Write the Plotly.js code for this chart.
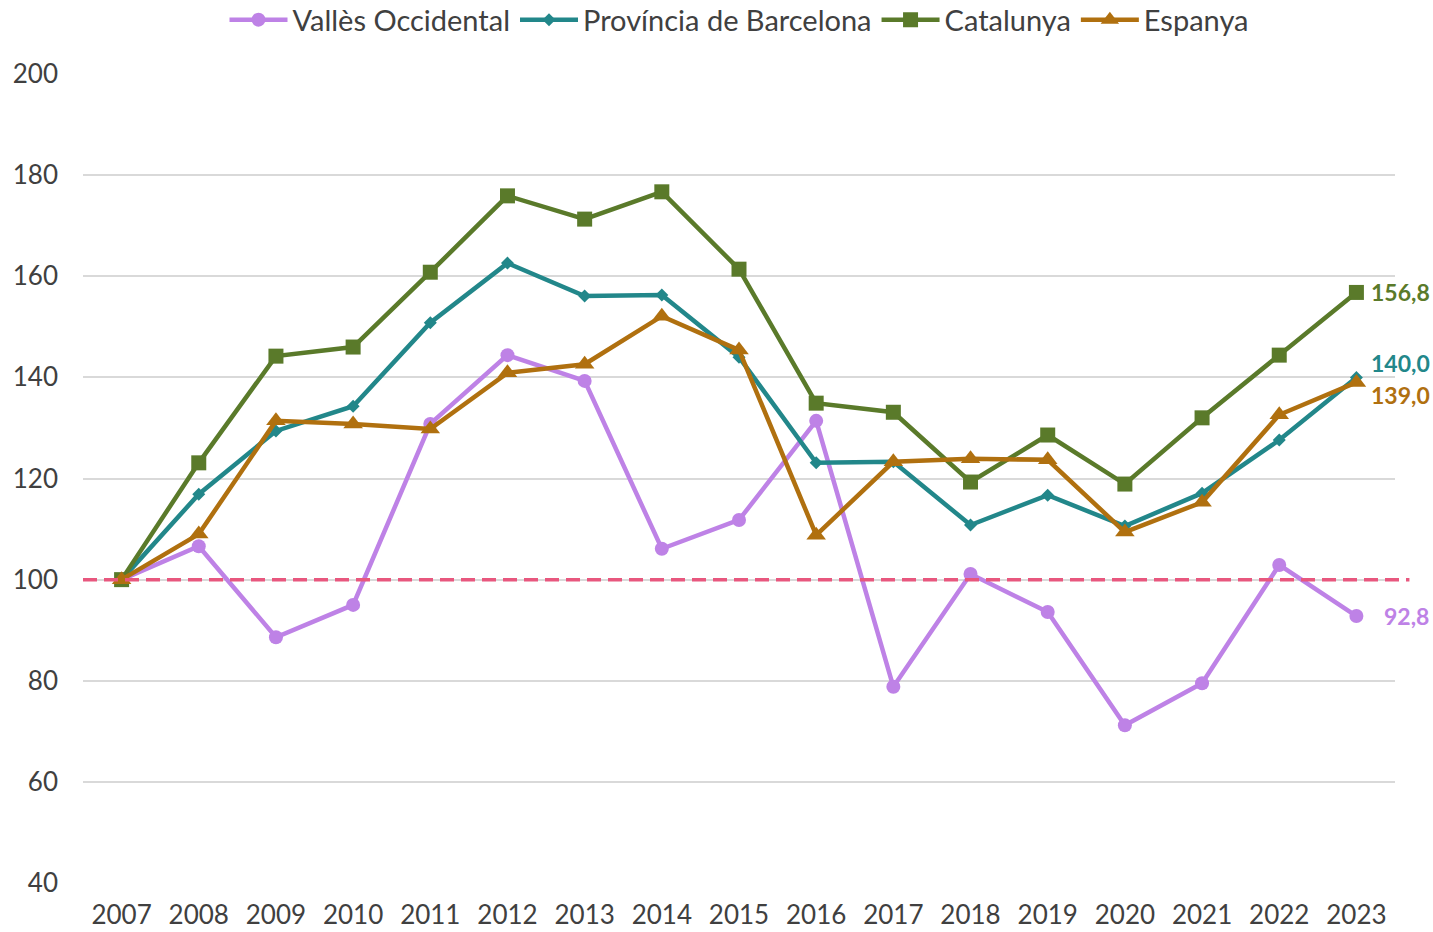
<!DOCTYPE html>
<html>
<head>
<meta charset="utf-8">
<script src="https://cdn.plot.ly/plotly-3.0.1.min.js"></script>
<style>html,body{margin:0;padding:0;background:#fff}#chart{width:1433px;height:932px}</style>
</head>
<body>
<div id="chart"></div>
<script>
const years = ['2007','2008','2009','2010','2011','2012','2013','2014','2015','2016','2017','2018','2019','2020','2021','2022','2023'];
const valles = [100,106.6,88.6,95.0,130.8,144.4,139.3,106.1,111.8,131.4,78.8,101.1,93.6,71.2,79.5,102.9,92.8];
const provincia = [100,116.9,129.4,134.3,150.8,162.6,156.1,156.3,144.0,123.1,123.3,110.8,116.7,110.6,117.1,127.6,140.0];
const catalunya = [100,123.1,144.2,146.0,160.8,175.9,171.3,176.7,161.4,134.9,133.1,119.3,128.6,118.9,132.0,144.4,156.8];
const espanya = [100,109.0,131.4,130.8,129.8,140.9,142.6,152.1,145.4,108.8,123.3,123.9,123.7,109.4,115.3,132.6,139.0];
const names = ['Vallès Occidental','Província de Barcelona','Catalunya','Espanya'];
const baseline = 100;

const colors = ['#BE82E6','#22878A','#5A7A2A','#B0700F'];
const symbols = ['circle','diamond','square','triangle-up'];
const sizes = [14,10,15,17];
const series = [valles, provincia, catalunya, espanya];

const traces = series.map((s,i)=>({
  x: years, y: s, name: names[i], type:'scatter', mode:'lines+markers',
  line:{color:colors[i], width:4.5},
  marker:{symbol:symbols[i], size:sizes[i], color:colors[i]},
  cliponaxis:false
}));

const last = years.length-1;
const fmt = v => v.toFixed(1).replace('.',',');
const labelShift = [[26,0],[13,14],[13,0],[13,-13]];
const annotations = series.map((s,i)=>({
  x: last, y: s[last], xref:'x', yref:'y', text: '<b>' + fmt(s[last]) + '</b>',
  showarrow:false, xanchor:'left', yanchor:'middle',
  xshift: labelShift[i][0], yshift: labelShift[i][1],
  font:{family:'Lato', size:23, color:colors[i]}
}));

const layout = {
  width:1433, height:932,
  margin:{l:83, r:38, t:74, b:49, autoexpand:false},
  paper_bgcolor:'#fff', plot_bgcolor:'#fff',
  font:{family:'Lato', color:'#404040'},
  showlegend:true,
  legend:{orientation:'h', x:0.5, xanchor:'center', y:1.067, yanchor:'middle',
    font:{family:'Lato', size:29, color:'#404040'}, itemwidth:58, tracegroupgap:0},
  xaxis:{type:'category', range:[-0.5,16.5], showgrid:false, zeroline:false, showline:false,
    ticks:'', ticklabelstandoff:14, tickfont:{family:'Lato', size:26, color:'#404040'}},
  yaxis:{range:[40,200], dtick:20, showgrid:true, gridcolor:'#D9D9D9', gridwidth:1.5,
    zeroline:false, showline:false, ticks:'', ticklabelstandoff:24,
    tickfont:{family:'Lato', size:26, color:'#404040'}},
  shapes:[{type:'line', xref:'paper', yref:'y', x0:0, x1:1.011, y0:baseline, y1:baseline,
    line:{color:'#E8577E', width:3.5, dash:'14px,7px'}, layer:'above'}],
  annotations: annotations
};

Plotly.newPlot('chart', traces, layout, {displayModeBar:false, responsive:false});
</script>
</body>
</html>
